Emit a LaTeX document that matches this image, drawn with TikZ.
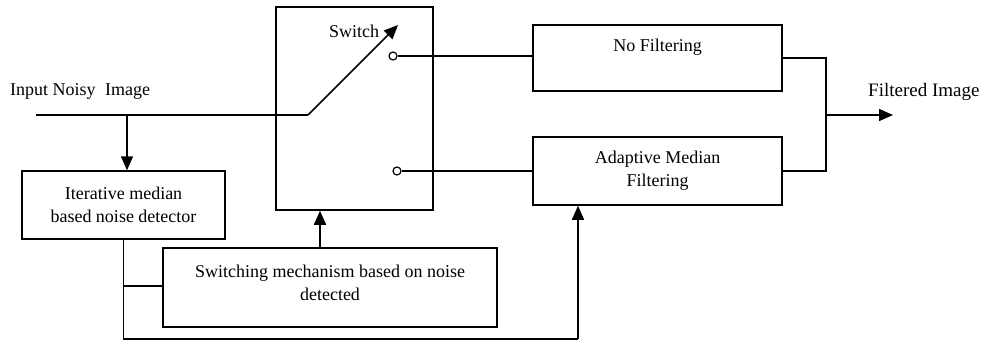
\documentclass[tikz,border=0pt]{standalone}
\usepackage{fontspec}
\setmainfont{Liberation Serif}
\usetikzlibrary{arrows.meta}
\begin{document}
\begin{tikzpicture}[x=1pt,y=-1pt,
  every node/.style={font=\fontsize{18}{23}\selectfont},
  box/.style={draw,line width=1.5pt,inner sep=0pt,align=center},
  wire/.style={line width=1.5pt},
  arr/.style={wire,-{Triangle[length=14pt,width=12pt]}},
  txt/.style={inner sep=0pt,align=center}]
\useasboundingbox (0,0) rectangle (985,343);
% boxes
\node[box,minimum width=157pt,minimum height=203pt] (sw) at (354.5,108.5) {};
\node[box,minimum width=249pt,minimum height=66pt] (nf) at (657.5,58) {};
\node[txt] (nft) at (657.5,47) {No Filtering};
\node[box,minimum width=249pt,minimum height=68pt] (am) at (657.5,171) {Adaptive Median\\Filtering};
\node[box,minimum width=203pt,minimum height=68pt] (it) at (123.5,205) {Iterative median\\based noise detector};
\node[box,minimum width=334pt,minimum height=79pt] (sm) at (330,287.5) {};
\node[txt] (smt) at (330,283) {Switching mechanism based on noise\\detected};
% texts
\node[txt,anchor=west] (in) at (10,91) {Input Noisy\hspace{5pt} Image};
\node[txt,anchor=west] (out) at (868,92) {\fontsize{19}{23}\selectfont Filtered Image};
\node[txt] (swt) at (354,31) {Switch};
% switch internals
\coordinate (start) at (36,115);
\coordinate (pivot) at (308,115);
\coordinate (tip) at (398,25);
\coordinate (br) at (127,115);
\node[draw,circle,line width=1.2pt,fill=white,minimum size=8pt,inner sep=0pt] (c1) at (393,56) {};
\node[draw,circle,line width=1.2pt,fill=white,minimum size=8pt,inner sep=0pt] (c2) at (397,171) {};
\draw[wire] (start) -- (pivot);
\draw[arr] (pivot) -- (tip);
\draw[arr] (br) -- (br |- it.north);
\draw[wire] (c1) -- (c1 -| nf.west);
\draw[wire] (c2) -- (c2 -| am.west);
% output
\coordinate (j1) at (826,58);
\coordinate (j2) at (826,171);
\coordinate (jm) at (826,115);
\coordinate (otip) at (893,115);
\draw[wire] (nf.east) -- (j1) -- (j2) -- (am.east);
\draw[arr] (jm) -- (otip);
% feedback
\coordinate (d1) at (123.5,286);
\coordinate (d2) at (123.5,339);
\coordinate (d3) at (578,339);
\draw[wire] (it.south) -- (d2) -- (d3);
\draw[arr] (d3) -- (d3 |- am.south);
\draw[wire] (d1) -- (d1 -| sm.west);
\coordinate (u1) at (320,248);
\draw[arr] (u1) -- (u1 |- sw.south);
\end{tikzpicture}
\end{document}
